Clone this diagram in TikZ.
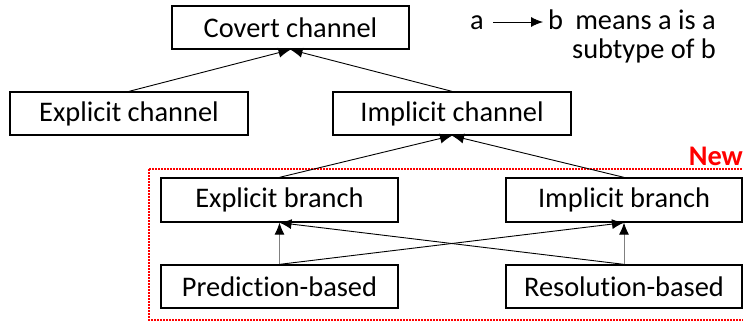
\documentclass[tikz,border=0pt]{standalone}
\usepackage{fontspec}
\setmainfont[Ligatures={NoCommon,NoRare}]{Carlito}
\usetikzlibrary{arrows.meta}
\tikzset{
  box/.style={draw=black, line width=1.3pt, minimum height=43pt, minimum width=237pt,
    inner sep=0pt, font=\fontsize{28.4}{34}\selectfont},
  tip/.style={-{Latex[length=12pt,width=10pt]}},
  link/.style={line width=0.9pt, tip},
  uplink/.style={line width=0.9pt, draw=gray, -{Latex[length=12pt,width=10pt,black]}},
  legend/.style={inner sep=0pt, font=\fontsize{28.4}{34}\selectfont},
  newzone/.style={draw=red, line width=1.6pt, dash pattern=on 1.5pt off 1.5pt}
}
\begin{document}
\begin{tikzpicture}[x=1pt,y=-1pt]
\useasboundingbox (0,0) rectangle (743,322);

% group of new subtypes
\draw[newzone] (149,169) -- (748,169);
\draw[newzone] (149,169) -- (149,320) -- (748,320);
\node[anchor=base east, inner sep=0pt, text=red, font=\fontsize{28.4}{34}\selectfont\bfseries] (new) at (743,165) {New};

% hierarchy
\node[box] (covert) at (290.5,27.5) {Covert channel};
\node[box, minimum width=238pt] (expch) at (129,113.5) {Explicit channel};
\node[box, minimum width=238pt] (impch) at (452,113.5) {Implicit channel};
\node[box, minimum height=44pt] (expbr) at (279.5,200) {Explicit branch};
\node[box, minimum height=44pt, minimum width=236pt] (impbr) at (624,200) {Implicit branch};
\node[box] (pred) at (279.5,286.5) {Prediction-based};
\node[box, minimum width=236pt] (reso) at (624,286.5) {Resolution-based};

\draw[link] (expch.north) -- (covert.south);
\draw[link] (impch.north) -- (covert.south);
\draw[link] (expbr.north) -- (impch.south);
\draw[link] (impbr.north) -- (impch.south);
\draw[uplink] (pred.north) -- (expbr.south);
\draw[link] (pred.north) -- (impbr.south);
\draw[link] (reso.north) -- (expbr.south);
\draw[uplink] (reso.north) -- (impbr.south);

% legend
\node[legend, anchor=base west] (la) at (470,29) {a};
\node[legend, anchor=base west] (lb) at (548,29) {b};
\draw[line width=0.9pt, tip, shorten <=9pt, shorten >=5pt] (la.east |- 0,22) -- (lb.west |- 0,22);
\node[legend, anchor=base east] (l2) at (716,29) {means a is a};
\node[legend, anchor=base east] (l3) at (716,58) {subtype of b};
\end{tikzpicture}
\end{document}
